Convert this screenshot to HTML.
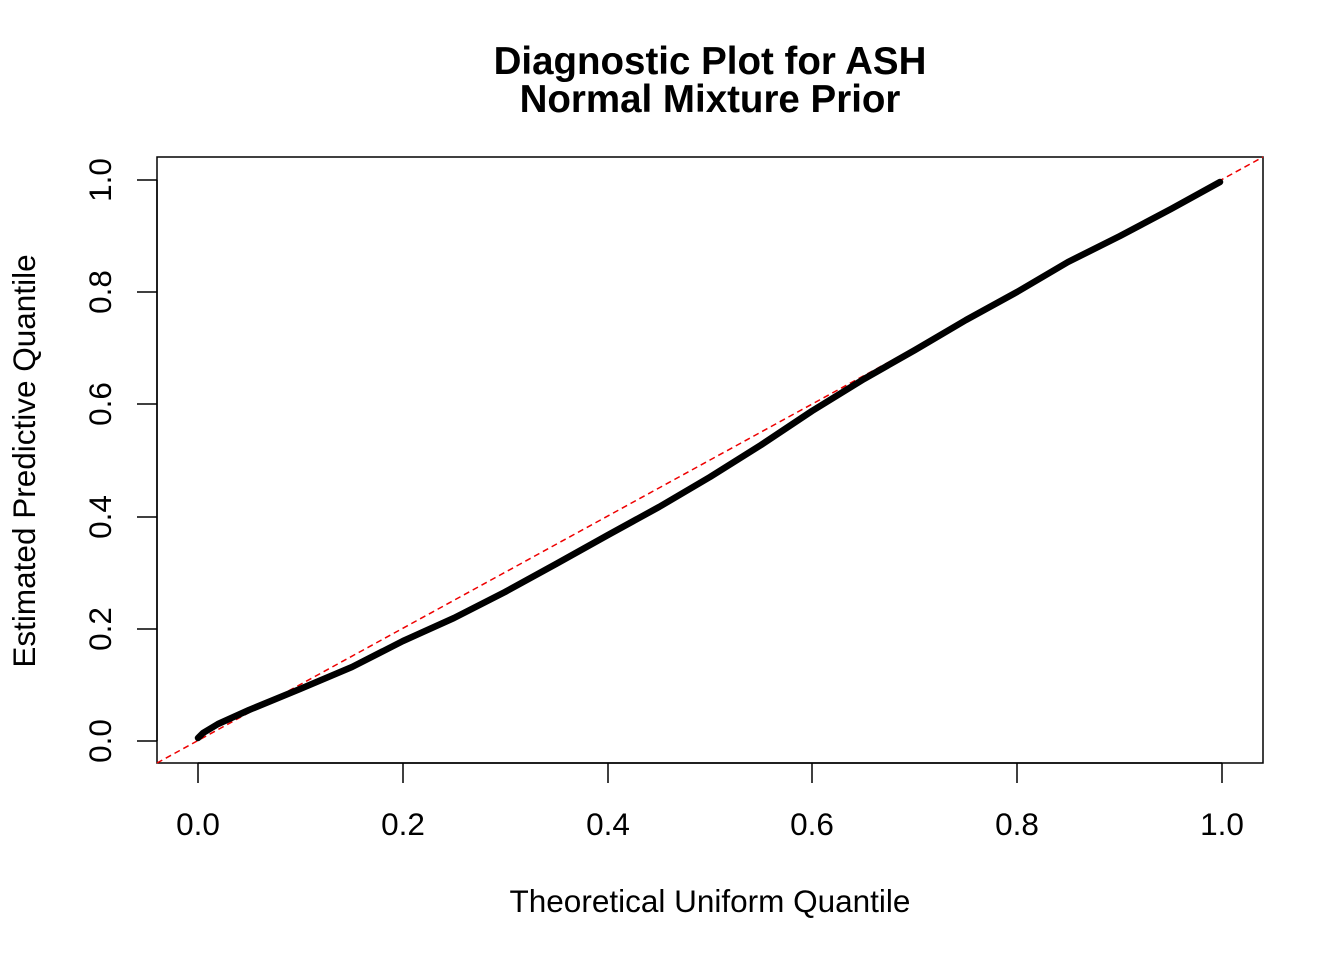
<!DOCTYPE html>
<html><head><style>body{margin:0;background:#fff}svg{display:block}</style></head>
<body>
<svg width="1344" height="960" xmlns="http://www.w3.org/2000/svg" font-family="Liberation Sans, Arial, sans-serif">
<rect width="1344" height="960" fill="#fff"/>
<text x="710" y="74" font-size="38.5" font-weight="bold" text-anchor="middle">Diagnostic Plot for ASH</text>
<text x="710" y="112" font-size="38.5" font-weight="bold" text-anchor="middle">Normal Mixture Prior</text>
<rect x="157" y="157" width="1106" height="606" fill="none" stroke="#000" stroke-width="1.5"/>
<g stroke="#000" stroke-width="1.5">
<line x1="198" y1="763" x2="1222" y2="763"/>
<line x1="198" y1="763" x2="198" y2="783"/><line x1="403" y1="763" x2="403" y2="783"/><line x1="608" y1="763" x2="608" y2="783"/><line x1="812" y1="763" x2="812" y2="783"/><line x1="1017" y1="763" x2="1017" y2="783"/><line x1="1222" y1="763" x2="1222" y2="783"/>
<line x1="157" y1="741" x2="157" y2="180"/>
<line x1="137" y1="741" x2="157" y2="741"/><line x1="137" y1="629" x2="157" y2="629"/><line x1="137" y1="517" x2="157" y2="517"/><line x1="137" y1="404" x2="157" y2="404"/><line x1="137" y1="292" x2="157" y2="292"/><line x1="137" y1="180" x2="157" y2="180"/>
</g>
<g font-size="31.5" text-anchor="middle">
<text x="198" y="835">0.0</text><text x="403" y="835">0.2</text><text x="608" y="835">0.4</text><text x="812" y="835">0.6</text><text x="1017" y="835">0.8</text><text x="1222" y="835">1.0</text>
<text transform="translate(111,741) rotate(-90)">0.0</text>
<text transform="translate(111,629) rotate(-90)">0.2</text>
<text transform="translate(111,517) rotate(-90)">0.4</text>
<text transform="translate(111,404) rotate(-90)">0.6</text>
<text transform="translate(111,292) rotate(-90)">0.8</text>
<text transform="translate(111,180) rotate(-90)">1.0</text>
<text x="710" y="912">Theoretical Uniform Quantile</text>
<text transform="translate(35,461) rotate(-90)">Estimated Predictive Quantile</text>
</g>
<line x1="157" y1="763" x2="1263" y2="157" stroke="#e00" stroke-width="1.5" stroke-dasharray="6,4"/>
<polyline fill="none" stroke="#000" stroke-width="6.5" stroke-linejoin="round" stroke-linecap="round"
points="198,738 203,733 218,724 249,710 300,689 352,667 403,641 454,618 505,592 556,564 608,535 659,507 710,477 761,445 812,411 864,379 915,350 966,320 1017,292 1068,262 1120,236 1171,209 1220,182"/>
</svg>
</body></html>
